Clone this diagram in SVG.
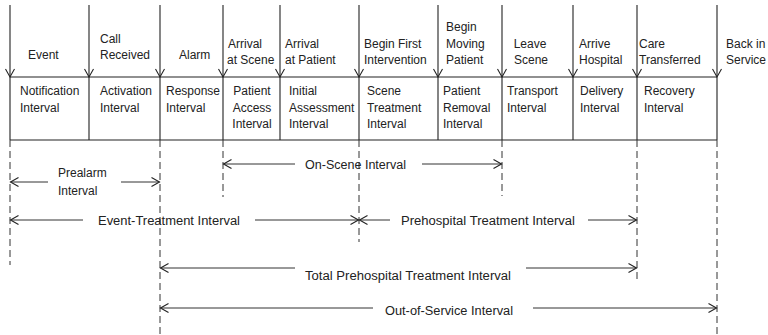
<svg xmlns="http://www.w3.org/2000/svg" width="768" height="335" viewBox="0 0 768 335">
<defs>
<marker id="ah" markerUnits="userSpaceOnUse" markerWidth="12" markerHeight="12" viewBox="-10 -6 12 12" refX="0" refY="0" orient="auto" overflow="visible">
<path d="M-8,-4.5 L0,0 L-8,4.5" fill="none" stroke="#222" stroke-width="1.1"/>
</marker>
<style>
text{font-family:"Liberation Sans",Arial,sans-serif;font-size:12px;fill:#222}
.m{text-anchor:middle}
.ar{stroke:#222;stroke-width:1.1;fill:none;marker-end:url(#ah)}
.sl{stroke:#222;stroke-width:1.1;fill:none}
.dl{stroke:#333;stroke-width:1;stroke-dasharray:7,4;fill:none}
.hl{stroke:#333;stroke-width:1;fill:none;marker-end:url(#ah)}
</style>
</defs>
<rect width="768" height="335" fill="#fff"/>
<g id="connectors">
<line class="ar" x1="10" y1="5" x2="10" y2="77"/>
<line class="ar" x1="89" y1="5" x2="89" y2="77"/>
<line class="ar" x1="160" y1="5" x2="160" y2="77"/>
<line class="ar" x1="223" y1="5" x2="223" y2="77"/>
<line class="ar" x1="280" y1="5" x2="280" y2="77"/>
<line class="ar" x1="359" y1="5" x2="359" y2="77"/>
<line class="ar" x1="438" y1="5" x2="438" y2="77"/>
<line class="ar" x1="502" y1="5" x2="502" y2="77"/>
<line class="ar" x1="573" y1="5" x2="573" y2="77"/>
<line class="ar" x1="637" y1="5" x2="637" y2="77"/>
<line class="ar" x1="717" y1="5" x2="717" y2="77"/>
<path class="sl" d="M10,77H717M10,140H717M10,77V140M89,77V140M160,77V140M223,77V140M280,77V140M359,77V140M438,77V140M502,77V140M573,77V140M637,77V140M717,77V140"/>
<path class="dl" d="M10,140V265M160,140V335M223,140V197M359,140V242M502,140V196M637,140V283M717,140V335"/>
<line class="hl" x1="295" y1="164" x2="223.5" y2="164"/>
<line class="hl" x1="422" y1="164" x2="501.5" y2="164"/>
<line class="hl" x1="48" y1="182" x2="10.5" y2="182"/>
<line class="hl" x1="121" y1="182" x2="159.5" y2="182"/>
<line class="hl" x1="83" y1="220" x2="10.5" y2="220"/>
<line class="hl" x1="255" y1="220" x2="358.5" y2="220"/>
<line class="hl" x1="390" y1="220" x2="359.5" y2="220"/>
<line class="hl" x1="588" y1="220" x2="636.5" y2="220"/>
<line class="hl" x1="295" y1="268" x2="160.5" y2="268"/>
<line class="hl" x1="526" y1="268" x2="636.5" y2="268"/>
<line class="hl" x1="373" y1="308" x2="160.5" y2="308"/>
<line class="hl" x1="533" y1="308" x2="716.5" y2="308"/>
</g>
<g id="event"><text x="28" y="59">Event</text></g>
<g id="call-received"><text x="100" y="43">Call</text><text x="100" y="59">Received</text></g>
<g id="alarm"><text x="179" y="59">Alarm</text></g>
<g id="arrival-scene"><text x="228" y="47.5">Arrival</text><text x="227" y="64">at Scene</text></g>
<g id="arrival-patient"><text x="285" y="47.5">Arrival</text><text x="285" y="64">at Patient</text></g>
<g id="begin-first"><text x="364" y="47.5">Begin First</text><text x="364" y="64">Intervention</text></g>
<g id="begin-moving"><text x="446" y="31">Begin</text><text x="446" y="47.5">Moving</text><text x="446" y="64">Patient</text></g>
<g id="leave-scene"><text class="m" x="530" y="47.5">Leave</text><text class="m" x="531" y="64">Scene</text></g>
<g id="arrive-hospital"><text x="579" y="47.5">Arrive</text><text x="579" y="64">Hospital</text></g>
<g id="care-transferred"><text x="639" y="47.5">Care</text><text x="639" y="64">Transferred</text></g>
<g id="back-in-service"><text x="726" y="47.5">Back in</text><text x="726" y="64">Service</text></g>
<g id="notification"><text x="20" y="95">Notification</text><text x="20" y="111.5">Interval</text></g>
<g id="activation"><text x="100" y="95">Activation</text><text x="100" y="111.5">Interval</text></g>
<g id="response"><text x="166" y="95">Response</text><text x="166" y="111.5">Interval</text></g>
<g id="patient-access"><text class="m" x="252" y="95">Patient</text><text class="m" x="252" y="111.5">Access</text><text class="m" x="252" y="128">Interval</text></g>
<g id="initial-assessment"><text x="289" y="95">Initial</text><text x="289" y="111.5">Assessment</text><text x="289" y="128">Interval</text></g>
<g id="scene-treatment"><text x="367" y="95">Scene</text><text x="367" y="111.5">Treatment</text><text x="367" y="128">Interval</text></g>
<g id="patient-removal"><text x="443" y="95">Patient</text><text x="443" y="111.5">Removal</text><text x="443" y="128">Interval</text></g>
<g id="transport"><text x="507" y="95">Transport</text><text x="507" y="111.5">Interval</text></g>
<g id="delivery"><text x="580" y="95">Delivery</text><text x="580" y="111.5">Interval</text></g>
<g id="recovery"><text x="644" y="95">Recovery</text><text x="644" y="111.5">Interval</text></g>
<g id="on-scene"><text x="305" y="168.5" textLength="101" lengthAdjust="spacingAndGlyphs">On-Scene Interval</text></g>
<g id="prealarm"><text x="58" y="177">Prealarm</text><text x="58" y="195">Interval</text></g>
<g id="event-treatment"><text x="98" y="225" textLength="142" lengthAdjust="spacingAndGlyphs">Event-Treatment Interval</text></g>
<g id="prehospital-treatment"><text x="401" y="225" textLength="174" lengthAdjust="spacingAndGlyphs">Prehospital Treatment  Interval</text></g>
<g id="total-prehospital"><text x="305" y="279.5" textLength="206" lengthAdjust="spacingAndGlyphs">Total Prehospital Treatment  Interval</text></g>
<g id="out-of-service"><text x="385" y="315" textLength="128" lengthAdjust="spacingAndGlyphs">Out-of-Service Interval</text></g>
</svg>
